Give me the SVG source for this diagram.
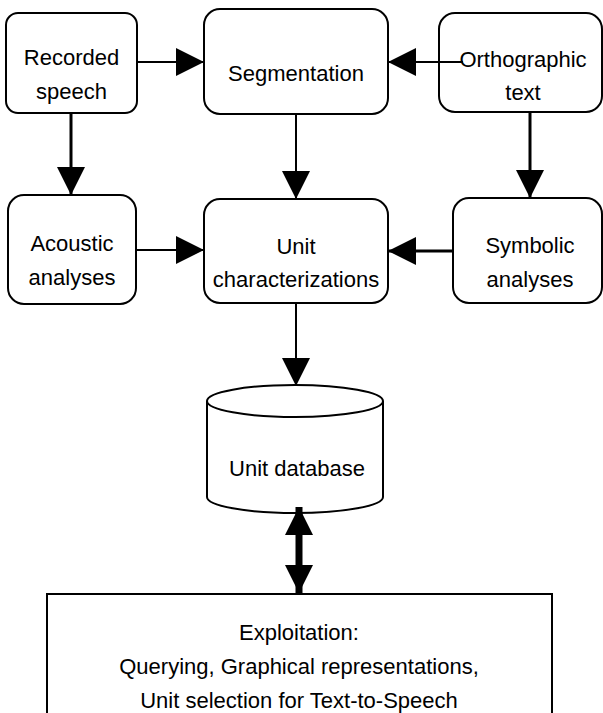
<svg xmlns="http://www.w3.org/2000/svg" width="603" height="713" viewBox="0 0 603 713">
<defs>
<style>
.box{fill:#fff;stroke:#000;stroke-width:2}
.t{font-family:"Liberation Sans",Arial,sans-serif;font-size:22px;fill:#000;text-anchor:middle}
.ln{stroke:#000;stroke-width:2;fill:none}
.ln3{stroke:#000;stroke-width:3;fill:none}
</style>
<marker id="ah" markerUnits="userSpaceOnUse" markerWidth="28" markerHeight="28" refX="28" refY="14" orient="auto-start-reverse" viewBox="0 0 28 28">
<path d="M0,0 L28,14 L0,28 Z" fill="#000"/>
</marker>
</defs>
<rect width="603" height="713" fill="#fff"/>
<g id="recorded">
<rect class="box" x="6" y="13" width="131" height="100" rx="12"/>
<text class="t" x="71.5" y="65">Recorded</text>
<text class="t" x="71.5" y="99">speech</text>
</g>
<g id="segmentation">
<rect class="box" x="204" y="9" width="184" height="105" rx="16"/>
<text class="t" x="296" y="81">Segmentation</text>
</g>
<g id="orthographic">
<rect class="box" x="439" y="13" width="163" height="99" rx="16"/>
<text class="t" x="523" y="67">Orthographic</text>
<text class="t" x="523" y="100">text</text>
</g>
<g id="acoustic">
<rect class="box" x="8" y="195" width="128" height="109" rx="16"/>
<text class="t" x="72" y="251">Acoustic</text>
<text class="t" x="72" y="285">analyses</text>
</g>
<g id="unitchar">
<rect class="box" x="204" y="199" width="184" height="104" rx="16"/>
<text class="t" x="296" y="254">Unit</text>
<text class="t" x="296" y="287">characterizations</text>
</g>
<g id="symbolic">
<rect class="box" x="453" y="198" width="149" height="105" rx="16"/>
<text class="t" x="530" y="253">Symbolic</text>
<text class="t" x="530" y="287">analyses</text>
</g>
<g id="database">
<path class="box" d="M207,401 L207,497 A88,16 0 0 0 383,497 L383,401"/>
<ellipse class="box" cx="295" cy="401" rx="88" ry="16"/>
<text class="t" x="297" y="476">Unit database</text>
</g>
<g id="exploitation">
<rect class="box" x="47" y="594" width="505" height="130" stroke-width="2.5"/>
<text class="t" x="299" y="640">Exploitation:</text>
<text class="t" x="299" y="674">Querying, Graphical representations,</text>
<text class="t" x="299" y="708">Unit selection for Text-to-Speech</text>
</g>
<g id="connectors">
<line class="ln" x1="137" y1="62" x2="204" y2="62" marker-end="url(#ah)"/>
<line class="ln" x1="463" y1="62" x2="388" y2="62" marker-end="url(#ah)"/>
<line class="ln3" x1="71" y1="113" x2="71" y2="195" marker-end="url(#ah)"/>
<line class="ln" x1="296" y1="114" x2="296" y2="199" marker-end="url(#ah)"/>
<line class="ln3" x1="530" y1="112" x2="530" y2="198" marker-end="url(#ah)"/>
<line class="ln" x1="136" y1="250" x2="204" y2="250" marker-end="url(#ah)"/>
<line class="ln3" x1="453" y1="251" x2="388" y2="251" marker-end="url(#ah)"/>
<line class="ln" x1="296" y1="303" x2="296" y2="386" marker-end="url(#ah)"/>
<line stroke="#000" stroke-width="7" x1="299" y1="507" x2="299" y2="593" marker-start="url(#ah)" marker-end="url(#ah)"/>
</g>
</svg>
